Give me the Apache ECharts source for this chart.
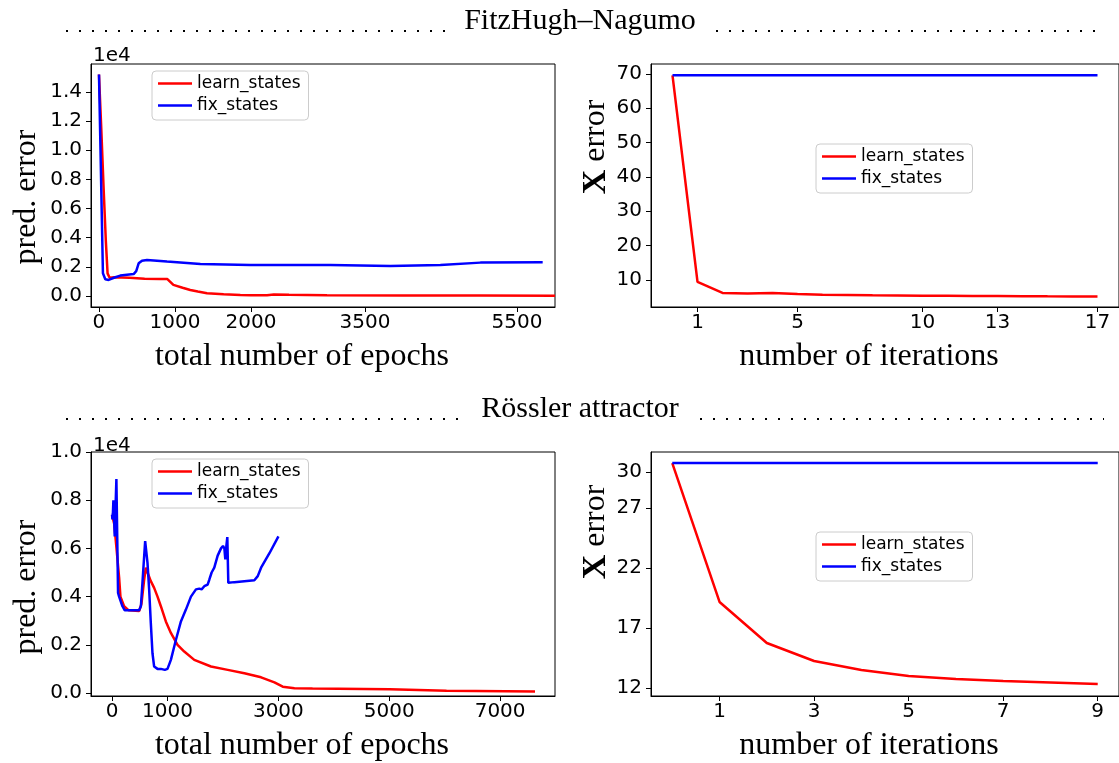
<!DOCTYPE html>
<html>
<head>
<meta charset="utf-8">
<title>Prediction and state error</title>
<script src="https://cdn.jsdelivr.net/npm/echarts@6/dist/echarts.min.js"></script>
<style>
  html, body { margin: 0; padding: 0; background: #fff; }
  #chart { width: 1119px; height: 763px; }
</style>
</head>
<body>
<div id="chart"></div>
<script>
// ---- FitzHugh–Nagumo: prediction error vs. total epochs ----
const fhnLearnEpochs = [0, 30, 60, 90, 113, 140, 200, 400, 600, 800, 900, 979, 1100, 1201, 1300, 1421, 1640, 1860, 2000, 2211, 2300, 2500, 2738, 3000, 4000, 5000, 6000];
const fhnLearnPred   = [15200, 11500, 7500, 3800, 1550, 1250, 1280, 1250, 1180, 1170, 1160, 755, 560, 412, 300, 183, 110, 69, 50, 46, 100, 80, 60, 40, 30, 25, 20];
const fhnFixEpochs   = [0, 20, 52, 83, 105, 127, 215, 280, 456, 490, 522, 566, 632, 895, 1334, 1992, 2386, 3044, 3834, 4492, 5018, 5838];
const fhnFixPred     = [15200, 10000, 1555, 1145, 1098, 1100, 1280, 1395, 1500, 1700, 2240, 2420, 2470, 2355, 2195, 2127, 2127, 2127, 2058, 2127, 2286, 2310];

// ---- FitzHugh–Nagumo: X error vs. iterations ----
const fhnIters     = [0, 1, 2, 3, 4, 5, 6, 7, 8, 9, 10, 11, 12, 13, 14, 15, 16, 17];
const fhnLearnXErr = [69.6, 9.4, 6.2, 6.0, 6.2, 5.9, 5.7, 5.6, 5.5, 5.45, 5.4, 5.35, 5.3, 5.28, 5.25, 5.2, 5.18, 5.15];
const fhnFixXErr   = [69.6, 69.6, 69.6, 69.6, 69.6, 69.6, 69.6, 69.6, 69.6, 69.6, 69.6, 69.6, 69.6, 69.6, 69.6, 69.6, 69.6, 69.6];

// ---- Rössler attractor: prediction error vs. total epochs ----
const rosLearnEpochs = [0, 40, 80, 127, 151, 217, 300, 488, 530, 579, 609, 639, 699, 759, 820, 880, 970, 1061, 1181, 1302, 1483, 1784, 2086, 2387, 2688, 2929, 3079, 3290, 3616, 5008, 6033, 7630];
const rosLearnPred   = [7400, 7000, 6000, 4800, 4000, 3600, 3430, 3400, 3700, 4700, 5200, 5000, 4640, 4360, 4000, 3600, 2970, 2490, 2000, 1720, 1375, 1100, 960, 820, 650, 440, 260, 200, 190, 150, 90, 60];
const rosFixEpochs   = [0, 6, 15, 24, 36, 48, 60, 78, 90, 108, 127, 151, 187, 229, 350, 488, 520, 560, 597, 615, 639, 669, 699, 729, 759, 820, 880, 952, 1000, 1061, 1151, 1242, 1332, 1423, 1513, 1573, 1615, 1664, 1724, 1754, 1796, 1844, 1905, 1965, 2001, 2026, 2043, 2062, 2079, 2097, 2206, 2567, 2628, 2688, 2839, 3001];
const rosFixPred     = [7400, 7200, 7450, 8000, 7300, 6500, 7500, 8875, 8875, 4150, 4000, 3950, 3600, 3430, 3430, 3430, 3600, 5000, 6300, 6250, 5400, 4300, 2900, 1650, 1100, 1000, 1000, 960, 1000, 1375, 2200, 2970, 3460, 4000, 4300, 4330, 4300, 4430, 4500, 4700, 5000, 5200, 5700, 6000, 6100, 6000, 5540, 6100, 6470, 4570, 4600, 4680, 4850, 5200, 5800, 6500];

// ---- Rössler attractor: X error vs. iterations ----
const rosIters     = [0, 1, 2, 3, 4, 5, 6, 7, 8, 9];
const rosLearnXErr = [30.75, 19.17, 15.75, 14.25, 13.5, 13.0, 12.75, 12.58, 12.45, 12.33];
const rosFixXErr   = [30.75, 30.75, 30.75, 30.75, 30.75, 30.75, 30.75, 30.75, 30.75, 30.75];

// ---- tick labels ----
const fhnEpochTicks = [0, 1000, 2000, 3500, 5500];
const fhnPredTicks  = [0, 2000, 4000, 6000, 8000, 10000, 12000, 14000];
const fhnIterTicks  = [1, 5, 10, 13, 17];
const fhnXErrTicks  = [10, 20, 30, 40, 50, 60, 70];
const rosEpochTicks = [0, 1000, 3000, 5000, 7000];
const rosPredTicks  = [0, 2000, 4000, 6000, 8000, 10000];
const rosIterTicks  = [1, 3, 5, 7, 9];
const rosXErrTicks  = [12, 17, 22, 27, 30];

const seriesNames = ['learn_states', 'fix_states'];
const RED = '#ff0000', BLUE = '#0000ff';

const pairs = (xs, ys) => xs.map((x, i) => [x, ys[i]]);

const SANS = 'DejaVu Sans';
const SERIF = 'Liberation Serif';
const TICK_FONT = 20;

function axisCommon(ticks, formatter) {
  return {
    type: 'value',
    splitLine: { show: false },
    axisLine: { show: true, onZero: false, lineStyle: { color: '#000', width: 1 } },
    axisTick: { show: true, length: 5, customValues: ticks, lineStyle: { color: '#000', width: 1 } },
    axisLabel: {
      customValues: ticks,
      color: '#000',
      fontFamily: SANS,
      fontSize: TICK_FONT,
      formatter: formatter || (v => String(v))
    }
  };
}

function xAxis(gridIndex, min, max, ticks) {
  const a = axisCommon(ticks);
  a.gridIndex = gridIndex; a.min = min; a.max = max;
  a.axisLabel.margin = 6;
  return a;
}
function yAxis(gridIndex, min, max, ticks, formatter) {
  const a = axisCommon(ticks, formatter);
  a.gridIndex = gridIndex; a.min = min; a.max = max;
  a.axisLabel.margin = 9;
  return a;
}

function lineSeries(name, idx, data, color) {
  return {
    name, type: 'line', xAxisIndex: idx, yAxisIndex: idx,
    data, symbol: 'none', showSymbol: false, clip: true,
    lineStyle: { color, width: 2.5 }, itemStyle: { color },
    emphasis: { disabled: true }
  };
}

// legend handles are plain line strokes
function legend(left, top) {
  return {
    data: seriesNames, orient: 'vertical', left, top,
    icon: 'rect', itemWidth: 34, itemHeight: 2.5, itemGap: 5,
    padding: [4, 8, 6, 6],
    borderColor: '#cccccc', borderWidth: 1, borderRadius: 4,
    backgroundColor: 'rgba(255,255,255,0.8)',
    textStyle: { fontFamily: SANS, fontSize: 17, lineHeight: 14, color: '#000' },
    selectedMode: false
  };
}

const predFmt = v => (v / 1e4).toFixed(1);

function serifText(text, x, y, size, rotate, rich) {
  const el = {
    type: 'text', x, y, silent: true,
    style: {
      text, fill: '#000', fontFamily: SERIF, fontSize: size,
      textAlign: 'center', textVerticalAlign: 'middle'
    }
  };
  if (rotate) el.rotation = Math.PI / 2;
  if (rich) el.style.rich = rich;
  return el;
}
function dots(x1, x2, y) {
  return {
    type: 'line', silent: true,
    shape: { x1, y1: y, x2, y2: y },
    style: { stroke: '#000', lineWidth: 2, lineDash: [2, 11] }
  };
}
const boldX = { b: { fontFamily: SERIF, fontSize: 34, fontWeight: 'bold', fill: '#000' } };

const option = {
  animation: false,
  backgroundColor: '#fff',
  grid: [
    { left: 91, top: 64, width: 464, height: 243, show: true, borderColor: '#000', borderWidth: 1, backgroundColor: 'transparent' },
    { left: 651, top: 64, right: -4, height: 243, show: true, borderColor: '#000', borderWidth: 1, backgroundColor: 'transparent' },
    { left: 91, top: 452, width: 464, height: 244, show: true, borderColor: '#000', borderWidth: 1, backgroundColor: 'transparent' },
    { left: 651, top: 452, right: -4, height: 244, show: true, borderColor: '#000', borderWidth: 1, backgroundColor: 'transparent' }
  ],
  xAxis: [
    xAxis(0, -105, 6000, fhnEpochTicks),
    xAxis(1, -0.86, 17.86, fhnIterTicks),
    xAxis(2, -380, 7990, rosEpochTicks),
    xAxis(3, -0.45, 9.45, rosIterTicks)
  ],
  yAxis: [
    yAxis(0, -760, 15920, fhnPredTicks, predFmt),
    yAxis(1, 2.1, 72.9, fhnXErrTicks),
    yAxis(2, -125, 10000, rosPredTicks, predFmt),
    yAxis(3, 11.33, 31.67, rosXErrTicks)
  ],
  legend: [
    legend(152, 71),
    legend(816, 144),
    legend(152, 459),
    legend(816, 532)
  ],
  series: [
    lineSeries('learn_states', 0, pairs(fhnLearnEpochs, fhnLearnPred), RED),
    lineSeries('fix_states', 0, pairs(fhnFixEpochs, fhnFixPred), BLUE),
    lineSeries('learn_states', 1, pairs(fhnIters, fhnLearnXErr), RED),
    lineSeries('fix_states', 1, pairs(fhnIters, fhnFixXErr), BLUE),
    lineSeries('learn_states', 2, pairs(rosLearnEpochs, rosLearnPred), RED),
    lineSeries('fix_states', 2, pairs(rosFixEpochs, rosFixPred), BLUE),
    lineSeries('learn_states', 3, pairs(rosIters, rosLearnXErr), RED),
    lineSeries('fix_states', 3, pairs(rosIters, rosFixXErr), BLUE)
  ],
  graphic: [
    // section headings with dotted leaders
    dots(66, 452, 31), serifText('FitzHugh–Nagumo', 580, 21, 30), dots(716, 1104, 31),
    dots(66, 467, 419), serifText('Rössler attractor', 580, 409, 30), dots(700, 1104, 419),
    // axis titles
    serifText('total number of epochs', 302, 357, 32),
    serifText('number of iterations', 869, 357, 32),
    serifText('total number of epochs', 302, 746, 32),
    serifText('number of iterations', 869, 746, 32),
    serifText('pred. error', 27, 197, 32, true),
    serifText('pred. error', 27, 587, 32, true),
    serifText('{b|X} error', 596, 147, 32, true, boldX),
    serifText('{b|X} error', 596, 532, 32, true, boldX),
    // scientific-notation multipliers
    { type: 'text', x: 93, y: 46, silent: true, style: { text: '1e4', fill: '#000', fontFamily: SANS, fontSize: TICK_FONT } },
    { type: 'text', x: 93, y: 436, silent: true, style: { text: '1e4', fill: '#000', fontFamily: SANS, fontSize: TICK_FONT } }
  ]
};

const chart = echarts.init(document.getElementById('chart'), null, { renderer: 'canvas' });
chart.setOption(option);
</script>
</body>
</html>
